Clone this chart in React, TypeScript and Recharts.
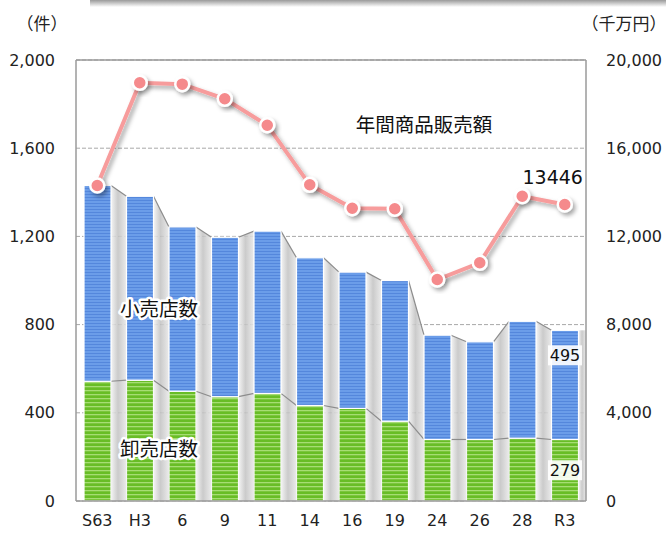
import React from 'react';
import {
  ComposedChart,
  Bar,
  Line,
  XAxis,
  YAxis,
  CartesianGrid,
  ReferenceLine,
  LabelList,
} from 'recharts';

const years = ['S63', 'H3', '6', '9', '11', '14', '16', '19', '24', '26', '28', 'R3'];
const wholesale = [543, 548, 498, 473, 488, 433, 420, 362, 279, 279, 285, 279];
const retail = [888, 834, 745, 723, 736, 670, 618, 638, 473, 443, 530, 495];
const sales = [14308, 18966, 18903, 18240, 17043, 14340, 13279, 13252, 10045, 10803, 13823, 13446];
const countTicks = [0, 400, 800, 1200, 1600, 2000];
const salesTicks = [0, 4000, 8000, 12000, 16000, 20000];

const data = years.map((year, i) => ({
  year,
  wholesale: wholesale[i],
  retail: retail[i],
  sales: sales[i],
}));

const W = 666;
const H = 536;
const LEFT_W = 76;
const RIGHT_W = 80;
const BAND = (W - LEFT_W - RIGHT_W) / years.length;
const NUM_FONT = '"DejaVu Sans", Verdana, sans-serif';
const JP_FONT = '"Noto Sans CJK JP", sans-serif';

const fmt = (v: number) => v.toLocaleString('en-US');

// retail bar on top, also draws the gray series lines + shading to the next bar
const RetailShape = (props: any) => {
  const { x, y, width, height, index, payload } = props;
  if (!height) return null;
  const k = height / payload.retail;
  const base = y + height + payload.wholesale * k;
  const green = y + height;
  const last = index === years.length - 1;
  let extra = null;
  if (!last) {
    const nx = x + BAND;
    const nTop = base - (retail[index + 1] + wholesale[index + 1]) * k;
    const nGreen = base - wholesale[index + 1] * k;
    extra = (
      <g>
        <polygon
          points={`${x + width},${y} ${nx},${nTop} ${nx},${base} ${x + width},${base}`}
          fill="url(#gapShade)"
        />
        <line x1={x + width} y1={y} x2={nx} y2={nTop} stroke="#8c8c8c" strokeWidth={1.2} />
        <line x1={x + width} y1={green} x2={nx} y2={nGreen} stroke="#8c8c8c" strokeWidth={1.2} />
      </g>
    );
  } else {
    extra = (
      <rect x={x + width} y={y} width={(BAND - width) / 2} height={base - y} fill="url(#gapShade)" />
    );
  }
  return (
    <g>
      {extra}
      <rect x={x} y={y} width={width} height={height} fill="url(#blueStripe)" stroke="#fff" strokeWidth={1.2} />
    </g>
  );
};

const WholesaleShape = (props: any) => {
  const { x, y, width, height } = props;
  return <rect x={x} y={y} width={width} height={height} fill="url(#greenStripe)" stroke="#fff" strokeWidth={1.2} />;
};

const SalesDot = (props: any) => {
  const { cx, cy, index } = props;
  return (
    <circle
      key={`dot-${index}`}
      cx={cx}
      cy={cy}
      r={7}
      fill="#f58a8c"
      stroke="#fff"
      strokeWidth={2.5}
      filter="url(#dropShadow)"
    />
  );
};

const lastIdx = years.length - 1;

const SalesLabel = (props: any) => {
  const { x, y, index } = props;
  if (index !== lastIdx) return null;
  return (
    <text x={x - 12} y={y - 28} textAnchor="middle" dominantBaseline="central" fontSize={19} fontFamily={NUM_FONT} fill="#111">
      {sales[index]}
    </text>
  );
};

const boxLabel = (dy: number, key: 'retail' | 'wholesale') => (props: any) => {
  const { x, y, width, height, index } = props;
  if (index !== lastIdx) return null;
  const cx = x + width / 2;
  const cy = dy >= 0 ? y + dy : y + height / 2;
  const val = key === 'retail' ? retail[index] : wholesale[index];
  return (
    <g>
      <rect x={cx - 17} y={cy - 10} width={34} height={20} fill="#fff" opacity={0.9} />
      <text x={cx} y={cy} textAnchor="middle" dominantBaseline="central" fontSize={16} fontFamily={NUM_FONT} fill="#111">
        {val}
      </text>
    </g>
  );
};

const haloText = {
  fontFamily: JP_FONT,
  fill: '#111',
  stroke: '#fff',
  strokeWidth: 5,
  paintOrder: 'stroke',
  strokeLinejoin: 'round',
} as React.CSSProperties;

export default function App() {
  return (
    <div style={{ position: 'absolute', left: 0, top: 0, width: W, height: H, background: '#fff' }}>
      <div
        style={{
          position: 'absolute',
          left: 90,
          top: 0,
          width: W - 90,
          height: 7,
          background: 'linear-gradient(to bottom, rgba(120,120,120,0.75), rgba(255,255,255,0))',
        }}
      />
      <ComposedChart
        width={W}
        height={H}
        data={data}
        margin={{ top: 60, right: 0, bottom: 0, left: 0 }}
        barCategoryGap={0}
      >
        <defs>
          <pattern id="blueStripe" patternUnits="userSpaceOnUse" width={8} height={3}>
            <rect width={8} height={3} fill="#6b9de9" />
            <rect y={2} width={8} height={1} fill="#5487dc" />
          </pattern>
          <pattern id="greenStripe" patternUnits="userSpaceOnUse" width={8} height={4}>
            <rect width={8} height={4} fill="#68bd26" />
            <rect y={2} width={8} height={1.3} fill="#a6dd74" />
          </pattern>
          <linearGradient id="gapShade" x1="0" y1="0" x2="1" y2="0">
            <stop offset="0%" stopColor="#f4f4f4" stopOpacity={0.9} />
            <stop offset="45%" stopColor="#c2c2c2" stopOpacity={0.85} />
            <stop offset="100%" stopColor="#e9e9e9" stopOpacity={0.9} />
          </linearGradient>
          <filter id="dropShadow" x="-50%" y="-50%" width="200%" height="200%">
            <feDropShadow dx={2.5} dy={3} stdDeviation={2} floodColor="#000" floodOpacity={0.35} />
          </filter>
        </defs>
        <CartesianGrid yAxisId="left" vertical={false} stroke="#a8a8a8" strokeDasharray="4 2" />
        <XAxis
          dataKey="year"
          height={35}
          tickLine={false}
          tickMargin={8}
          axisLine={{ stroke: '#9a9a9a', strokeWidth: 1.5 }}
          tick={{ fontSize: 16, fontFamily: NUM_FONT, fill: '#222' }}
          interval={0}
        />
        <YAxis
          yAxisId="left"
          width={LEFT_W}
          domain={[0, 2000]}
          ticks={countTicks}
          tickFormatter={fmt}
          tickLine={false}
          tickMargin={15}
          axisLine={{ stroke: '#9a9a9a', strokeWidth: 1.5 }}
          tick={{ fontSize: 16, fontFamily: NUM_FONT, fill: '#222' }}
        />
        <YAxis
          yAxisId="right"
          orientation="right"
          width={RIGHT_W}
          domain={[0, 20000]}
          ticks={salesTicks}
          tickFormatter={fmt}
          tickLine={false}
          tickMargin={14}
          axisLine={{ stroke: '#9a9a9a', strokeWidth: 1.5 }}
          tick={{ fontSize: 16, fontFamily: NUM_FONT, fill: '#222', textAnchor: 'start' }}
        />
        <ReferenceLine yAxisId="left" y={2000} stroke="#9a9a9a" strokeWidth={1.5} />
        <Bar
          yAxisId="left"
          dataKey="wholesale"
          stackId="s"
          barSize={27}
          shape={WholesaleShape}
          isAnimationActive={false}
        >
          <LabelList dataKey="wholesale" content={boxLabel(-1, 'wholesale')} />
        </Bar>
        <Bar
          yAxisId="left"
          dataKey="retail"
          stackId="s"
          barSize={27}
          shape={RetailShape}
          isAnimationActive={false}
        >
          <LabelList dataKey="retail" content={boxLabel(25, 'retail')} />
        </Bar>
        <Line
          yAxisId="right"
          dataKey="sales"
          type="linear"
          stroke="#f79c9c"
          strokeWidth={4}
          filter="url(#dropShadow)"
          dot={SalesDot}
          activeDot={false}
          isAnimationActive={false}
        >
          <LabelList dataKey="sales" content={SalesLabel} />
        </Line>
      </ComposedChart>
      <svg width={W} height={H} style={{ position: 'absolute', left: 0, top: 0, pointerEvents: 'none' }}>
        <text x={42} y={22} textAnchor="middle" dominantBaseline="central" fontSize={17} fontFamily={JP_FONT} fill="#222">
          （件）
        </text>
        <text x={624} y={22} textAnchor="middle" dominantBaseline="central" fontSize={17} fontFamily={JP_FONT} fill="#222">
          （千万円）
        </text>
        <text x={424} y={123} textAnchor="middle" dominantBaseline="central" fontSize={19.5} style={haloText}>
          年間商品販売額
        </text>
        <text x={159} y={307} textAnchor="middle" dominantBaseline="central" fontSize={19.5} style={haloText}>
          小売店数
        </text>
        <text x={159} y={447} textAnchor="middle" dominantBaseline="central" fontSize={19.5} style={haloText}>
          卸売店数
        </text>
      </svg>
    </div>
  );
}
